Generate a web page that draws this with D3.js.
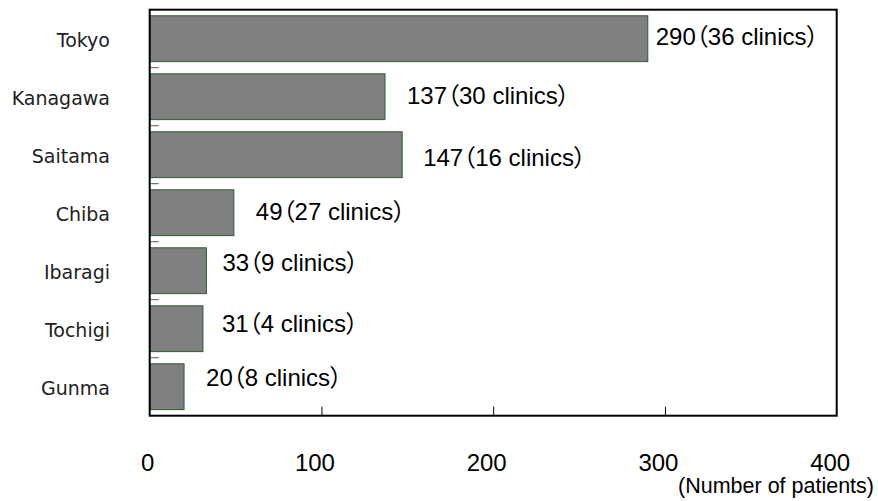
<!DOCTYPE html>
<html>
<head>
<meta charset="utf-8">
<script src="https://cdn.jsdelivr.net/npm/d3@7"></script>
<style>
  html, body { margin: 0; padding: 0; background: #fff; }
  svg { display: block; }
</style>
</head>
<body>
<svg id="chart" width="878" height="501"></svg>
<script>
// Patients by prefecture (Kanto region)
const prefectures = ["Tokyo", "Kanagawa", "Saitama", "Chiba", "Ibaragi", "Tochigi", "Gunma"];
const patients = [290, 137, 147, 49, 33, 31, 20];
const clinics = [36, 30, 16, 27, 9, 4, 8];
const xTicks = [0, 100, 200, 300, 400];
const xTitle = "(Number of patients)";

const svg = d3.select("#chart");

const plot = { left: 149.7, right: 836.7, top: 9.7, bottom: 415.7 };

const x = d3.scaleLinear().domain([0, 400]).range([plot.left, plot.right]);
const y = d3.scaleBand()
  .domain(prefectures)
  .range([plot.top, plot.bottom])
  .paddingInner(0.21)
  .paddingOuter(0.105);

const rows = prefectures.map((p, i) => ({ name: p, value: patients[i], clinics: clinics[i] }));

// bars
svg.append("g").selectAll("rect")
  .data(rows)
  .join("rect")
  .attr("x", x(0))
  .attr("y", d => y(d.name))
  .attr("width", d => x(d.value) - x(0))
  .attr("height", y.bandwidth())
  .attr("fill", "#808080")
  .attr("stroke", "#2f5a2f")
  .attr("stroke-width", 1);

// small category separators along the left edge
const step = y.step();
svg.append("g").selectAll("line")
  .data(d3.range(1, prefectures.length))
  .join("line")
  .attr("x1", plot.left + 1)
  .attr("x2", plot.left + 9)
  .attr("y1", k => plot.top + k * step)
  .attr("y2", k => plot.top + k * step)
  .attr("stroke", "#555")
  .attr("stroke-width", 1);

// bottom ticks pointing into the plot
const xAxis = d3.axisBottom(x).tickValues(xTicks.slice(1, -1)).tickSize(-9).tickFormat("");
const gx = svg.append("g").attr("transform", `translate(0,${plot.bottom})`).call(xAxis);
gx.select(".domain").remove();
gx.selectAll(".tick line").attr("stroke", "#000").attr("stroke-width", 1);

// frame
svg.append("rect")
  .attr("x", plot.left)
  .attr("y", plot.top)
  .attr("width", plot.right - plot.left)
  .attr("height", plot.bottom - plot.top)
  .attr("fill", "none")
  .attr("stroke", "#000")
  .attr("stroke-width", 2);

// x tick labels
svg.append("g").selectAll("text")
  .data(xTicks)
  .join("text")
  .attr("x", d => x(d) + (d === 0 ? -2 : -6.5))
  .attr("y", 470.5)
  .attr("text-anchor", "middle")
  .attr("font-family", "'Liberation Sans', Arial, sans-serif")
  .attr("font-size", 24)
  .attr("fill", "#000")
  .text(d => d);

svg.append("text")
  .attr("x", 874)
  .attr("y", 493)
  .attr("text-anchor", "end")
  .attr("font-family", "'Liberation Sans', Arial, sans-serif")
  .attr("font-size", 21.5)
  .attr("fill", "#000")
  .text(xTitle);

// category labels
svg.append("g").selectAll("text")
  .data(rows)
  .join("text")
  .attr("x", 110)
  .attr("y", d => y(d.name) + y.bandwidth() / 2 + 1)
  .attr("dy", "0.36em")
  .attr("text-anchor", "end")
  .attr("font-family", "'DejaVu Sans', sans-serif")
  .attr("font-size", 19)
  .attr("fill", "#222")
  .text(d => d.name);

// value labels beside each bar
const labelNudge = [[8, -2], [22, -1], [21, 3], [22, -1], [16, -8], [19, -5], [22, -9]];
svg.append("g").selectAll("text")
  .data(rows)
  .join("text")
  .attr("x", (d, i) => x(d.value) + labelNudge[i][0])
  .attr("y", (d, i) => y(d.name) + y.bandwidth() / 2 + labelNudge[i][1] + 8.6)
  .attr("text-anchor", "start")
  .attr("font-family", "'Liberation Sans', Arial, 'Noto Sans CJK JP', sans-serif")
  .attr("font-size", 24)
  .style("font-feature-settings", "'palt'")
  .attr("fill", "#000")
  .text(d => `${d.value}（${d.clinics} clinics）`);
</script>
</body>
</html>
